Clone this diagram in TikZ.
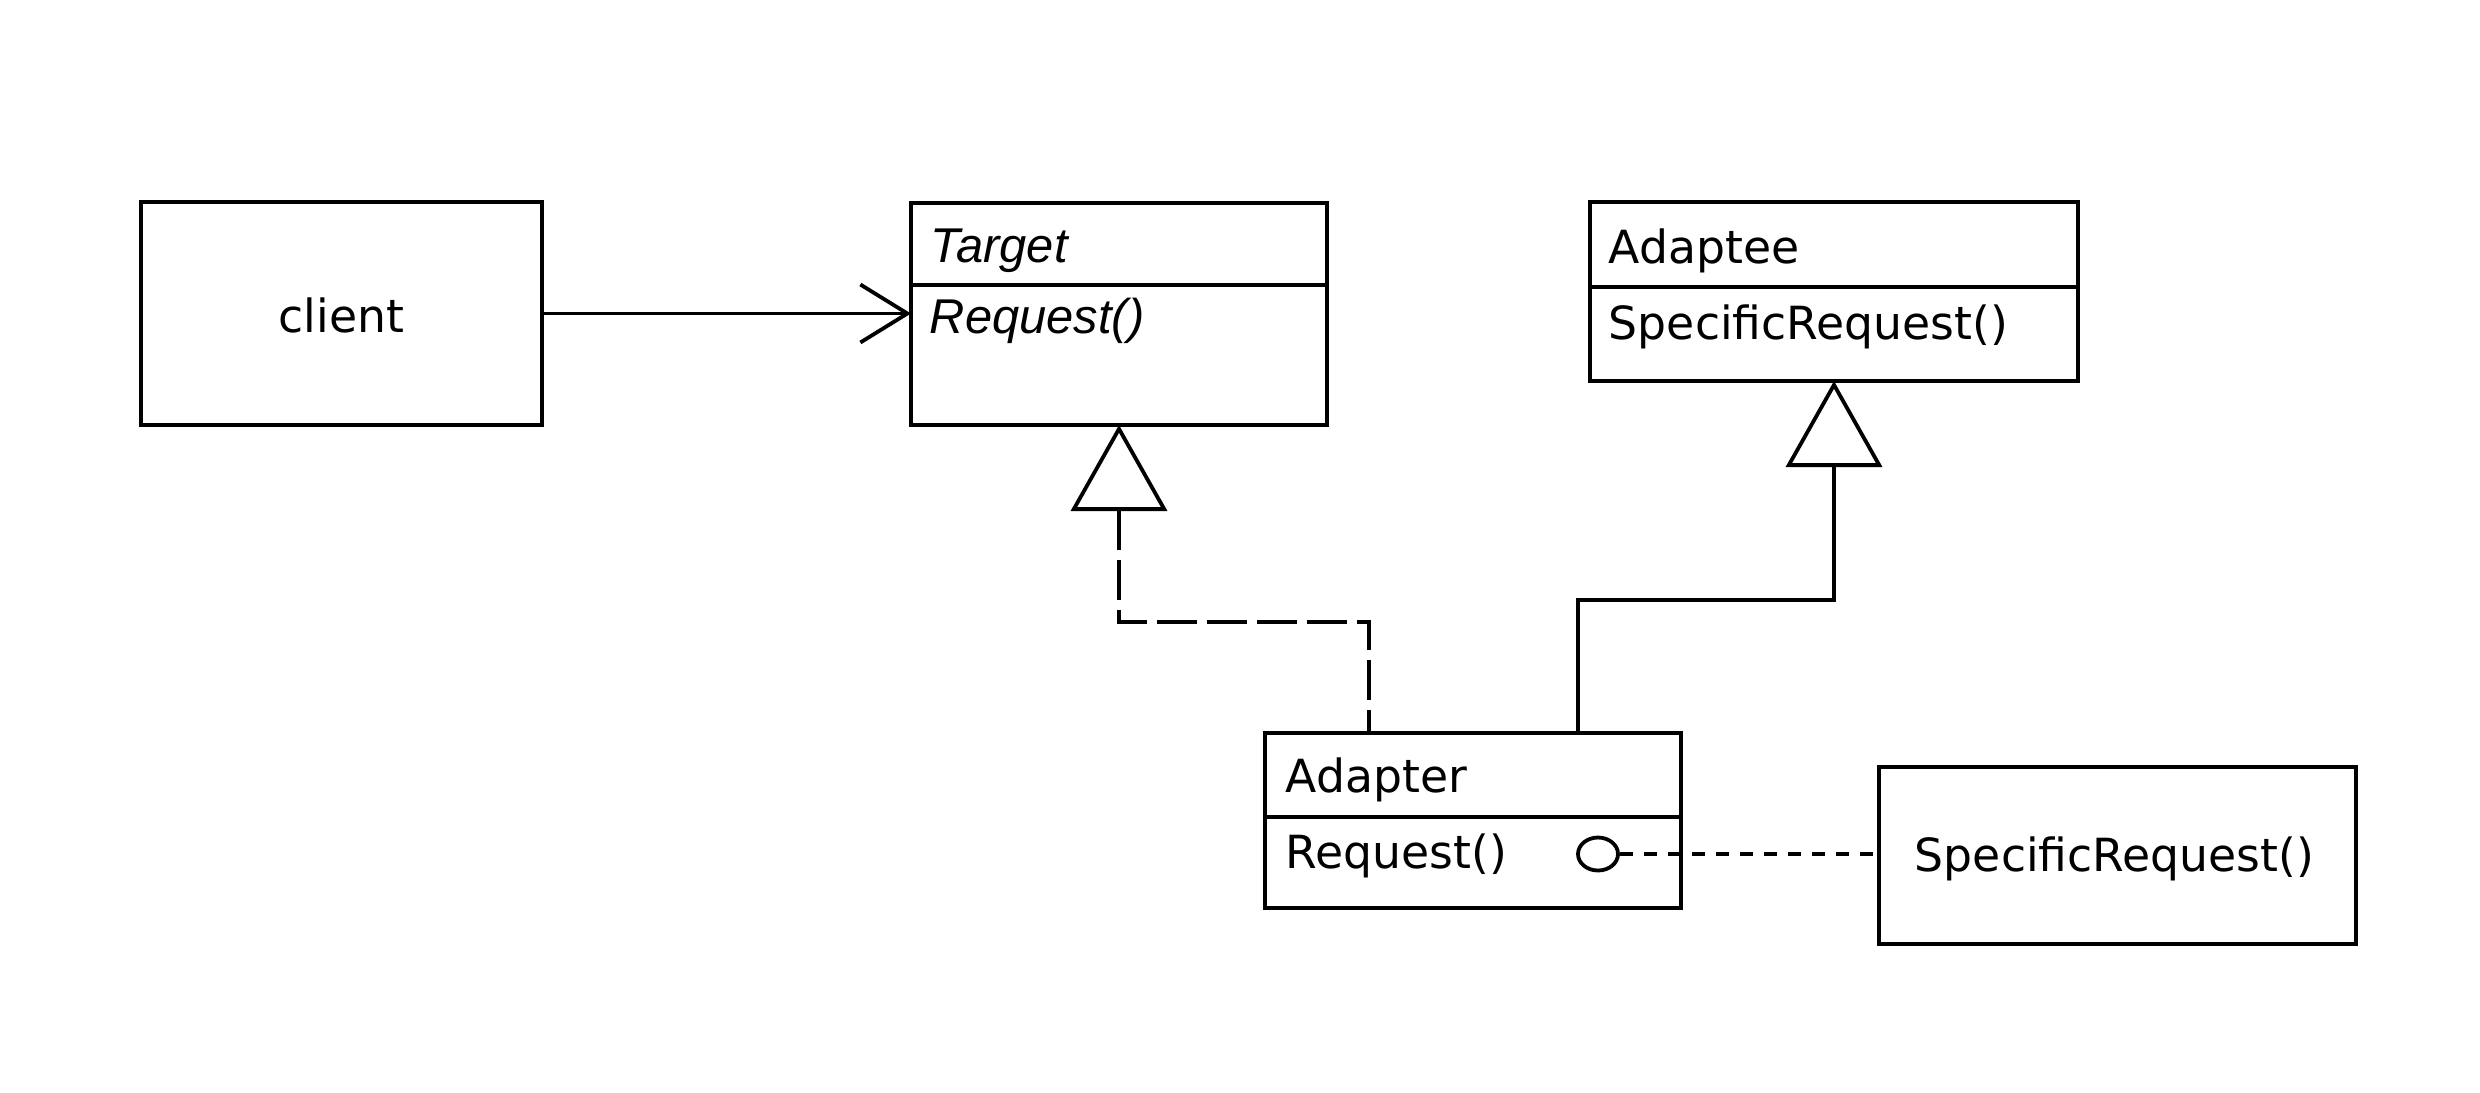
\documentclass[tikz,border=0pt]{standalone}
\usepackage{fontspec}
\setmainfont{DejaVu Sans}
\newfontfamily\itfont{Liberation Sans}
\usetikzlibrary{arrows.meta,calc,shapes.geometric}
\begin{document}
\begin{tikzpicture}[x=0.1mm,y=-0.1mm,line width=0.38mm,
  box/.style={draw,rectangle,inner sep=0pt,outer sep=0pt,anchor=north west},
  lbl/.style={inner sep=0pt,anchor=base west,font=\fontsize{13}{15}\selectfont},
  itlbl/.style={inner sep=0pt,anchor=base west,font=\itfont\itshape\fontsize{13.9}{16}\selectfont},
  dashlong/.style={dash pattern=on 4mm off 1mm},
  dashshort/.style={dash pattern=on 1.3mm off 1.1mm},
  gen/.style={arrows={Triangle[open,length=8.6mm,width=9.6mm]-}},
  nav/.style={arrows={-Straight Barb[length=4.7mm,width=5.8mm]}}
]
\useasboundingbox (0,0) rectangle (2480,1092);

% boxes
\node[box,minimum width=40.1mm,minimum height=22.3mm] (client) at (141,202) {};
\node[box,minimum width=41.6mm,minimum height=22.2mm] (target) at (911,203) {};
\node[box,minimum width=48.8mm,minimum height=17.9mm] (adaptee) at (1590,202) {};
\node[box,minimum width=41.6mm,minimum height=17.5mm] (adapter) at (1265,733) {};
\node[box,minimum width=47.7mm,minimum height=17.7mm] (spec) at (1879,767) {};

% dividers
\draw ($(target.north west)+(0,82)$) -- ($(target.north east)+(0,82)$);
\draw ($(adaptee.north west)+(0,85)$) -- ($(adaptee.north east)+(0,85)$);
\draw ($(adapter.north west)+(0,84)$) -- ($(adapter.north east)+(0,84)$);

% texts
\node[lbl,anchor=base] (clienttxt) at (341.5,332) {client};
\node[itlbl] (ttitle) at (929,262) {Target};
\node[itlbl] (top) at (928,333) {Request()};
\node[lbl] (atitle) at (1607,263) {Adaptee};
\node[lbl] (aop) at (1607,339) {SpecificRequest()};
\node[lbl] (adtitle) at (1284,792) {Adapter};
\node[lbl] (adop) at (1284,868) {Request()};
\node[lbl] (spectxt) at (1913,871) {SpecificRequest()};

% knob
\node[draw,ellipse,inner sep=0pt,minimum width=4.0mm,minimum height=3.3mm] (knob) at (1598,854) {};

% connectors
\draw[nav] (client.east) -- (target.west |- client.east);
\draw[dashlong,gen] (target.south) -- ++(0,197) -| ($(adapter.north west)+(104,0)$);
\draw[gen] (adaptee.south) -- ++(0,219) -| ($(adapter.north west)+(313,0)$);
\draw[dashshort] (knob.east) -- (knob.east -| spec.west);
\end{tikzpicture}
\end{document}
